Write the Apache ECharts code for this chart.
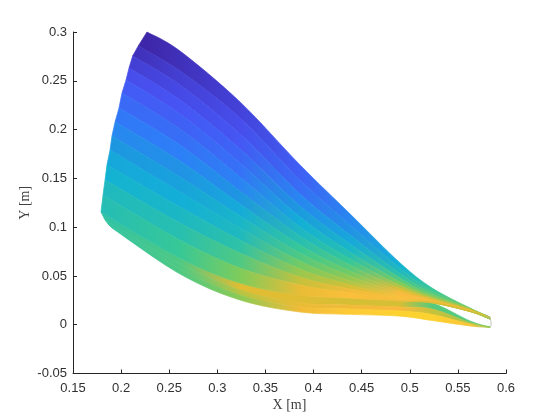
<!DOCTYPE html>
<html>
<head>
<meta charset="utf-8">
<style>html,body{margin:0;padding:0;background:#fff}#c{width:560px;height:420px}</style>
<script src="https://cdn.jsdelivr.net/npm/echarts@6/dist/echarts.min.js"></script>
</head>
<body>
<div id="c"></div>
<script>
// X stations shared by all rows (after each row's own left-edge point)
const stationX = [0.2612, 0.3236, 0.386, 0.438, 0.49, 0.5232, 0.5627, 0.5835];

// Left-edge X of each row, upper sheet then lower sheet
const upperLeftX = [0.2269, 0.2178, 0.2120, 0.2082, 0.2051, 0.2009, 0.1978, 0.1937, 0.1905, 0.1885, 0.1853, 0.1833, 0.1812, 0.1791];
const lowerLeftX = [0.1791, 0.1833, 0.1864, 0.1905];

// Y of each row of the upper sheet: left edge, then stations
const uY0  = [0.300, 0.2805, 0.2283, 0.1637, 0.1135, 0.0632, 0.0376, 0.0171, 0.0079];
const uY1  = [0.2857, 0.2600, 0.2119, 0.1483, 0.1022, 0.0576, 0.0345, 0.0166, 0.0076];
const uY2  = [0.2754, 0.2457, 0.1955, 0.1340, 0.0919, 0.0525, 0.0320, 0.0161, 0.0073];
const uY3  = [0.2631, 0.2303, 0.1801, 0.1217, 0.0827, 0.0478, 0.0299, 0.0158, 0.007];
const uY4  = [0.2508, 0.2159, 0.1657, 0.1104, 0.0745, 0.0437, 0.0284, 0.0155, 0.0069];
const uY5  = [0.2375, 0.2006, 0.1514, 0.1001, 0.0673, 0.0402, 0.0268, 0.0151, 0.0069];
const uY6  = [0.2221, 0.1842, 0.1370, 0.0909, 0.0612, 0.0371, 0.0258, 0.0147, 0.0065];
const uY7  = [0.2078, 0.1678, 0.1237, 0.0817, 0.0550, 0.0345, 0.0248, 0.0144, 0.0063];
const uY8  = [0.1934, 0.1514, 0.1114, 0.0735, 0.0499, 0.0325, 0.0243, 0.0141, 0.0061];
const uY9  = [0.179, 0.1360, 0.0991, 0.0653, 0.0448, 0.0304, 0.0238, 0.0138, 0.006];
const uY10 = [0.1637, 0.1206, 0.0868, 0.0571, 0.0407, 0.0284, 0.0233, 0.0137, 0.0059];
const uY11 = [0.1483, 0.1042, 0.0735, 0.0489, 0.0366, 0.0268, 0.0229, 0.0136, 0.0058];
const uY12 = [0.1329, 0.0868, 0.0581, 0.0407, 0.0325, 0.0253, 0.0226, 0.0135, 0.0058];
const uY13 = [0.1155, 0.0684, 0.0427, 0.0304, 0.0273, 0.0243, 0.0222, 0.0135, 0.0058];

// Y of each row of the lower sheet
const lY0 = [0.1155, 0.0684, 0.0427, 0.0304, 0.0273, 0.0243, 0.0222, 0.0038, -0.0024];
const lY1 = [0.1073, 0.0622, 0.0356, 0.0222, 0.0202, 0.0181, 0.0161, 0.0022, -0.0024];
const lY2 = [0.1032, 0.0571, 0.0304, 0.0181, 0.0161, 0.0140, 0.0105, 0.0007, -0.0026];
const lY3 = [0.0991, 0.052, 0.0253, 0.013, 0.0106, 0.0088, 0.0043, -0.0013, -0.0029];

// Colour value (0..1 on the colormap) of each band
const uC0  = [0, .03, .08, .16, .27, .38, .5, .6, .65];
const uC1  = [.03, .07, .11, .2, .3, .42, .53, .62, .66];
const uC2  = [.07, .1, .14, .27, .35, .47, .58, .66, .68];
const uC3  = [.11, .13, .18, .32, .4, .55, .62, .7, .7];
const uC4  = [.15, .16, .21, .37, .45, .62, .68, .74, .72];
const uC5  = [.19, .2, .26, .41, .5, .7, .74, .78, .74];
const uC6  = [.23, .25, .31, .45, .55, .76, .78, .8, .74];
const uC7  = [.27, .3, .36, .5, .6, .8, .8, .8, .74];
const uC8  = [.31, .34, .4, .54, .65, .82, .82, .8, .74];
const uC9  = [.35, .37, .42, .6, .69, .83, .8, .78, .72];
const uC10 = [.38, .41, .47, .66, .74, .84, .78, .76, .7];
const uC11 = [.42, .45, .54, .72, .8, .84, .76, .74, .68];
const uC12 = [.44, .5, .62, .78, .84, .8, .74, .72, .66];
const uC13 = [.47, .54, .76, .8, .78, .74, .72, .7, .6];

const lC0 = [.47, .54, .76, .76, .74, .74, .55, .55, .6];
const lC1 = [.48, .54, .7, .78, .8, .82, .72, .68, .62];
const lC2 = [.48, .54, .64, .8, .88, .9, .9, .86, .65];

// Thin outline closing the tip
const tipX = [0.5785, 0.5835, 0.5845, 0.5835];
const tipY = [0.0105, 0.0058, 0.0005, -0.0026];

const upperRows = [uY0,uY1,uY2,uY3,uY4,uY5,uY6,uY7,uY8,uY9,uY10,uY11,uY12,uY13];
const upperVals = [uC0,uC1,uC2,uC3,uC4,uC5,uC6,uC7,uC8,uC9,uC10,uC11,uC12,uC13];
const lowerRows = [lY0,lY1,lY2,lY3];
const lowerVals = [lC0,lC1,lC2];

const cmap = [[0,[62,38,168]],[.125,[72,82,244]],[.25,[45,127,248]],[.31,[30,150,225]],[.375,[18,177,214]],[.5,[55,200,151]],[.625,[129,204,89]],[.75,[220,190,50]],[.82,[250,186,60]],[.875,[253,200,55]],[1,[249,251,21]]];
function col(v){
  for(let i=1;i<cmap.length;i++){
    if(v<=cmap[i][0]){
      const a=cmap[i-1],b=cmap[i],t=(v-a[0])/(b[0]-a[0]);
      return 'rgb('+a[1].map((c,k)=>Math.round(c+(b[1][k]-c)*t)).join(',')+')';
    }
  }
  return 'rgb(249,251,21)';
}

// Smooth edge through a row of pixels, drawn as bezier segments
function smoothTo(ctx,P){
  for(let i=0;i<P.length-1;i++){
    const p0=P[Math.max(i-1,0)],p1=P[i],p2=P[i+1],p3=P[Math.min(i+2,P.length-1)];
    ctx.bezierCurveTo(p1[0]+(p2[0]-p0[0])/6,p1[1]+(p2[1]-p0[1])/6,p2[0]-(p3[0]-p1[0])/6,p2[1]-(p3[1]-p1[1])/6,p2[0],p2[1]);
  }
}
echarts.graphic.registerShape('band',echarts.graphic.extendShape({
  shape:{top:[],bottom:[]},
  buildPath(ctx,s){
    ctx.moveTo(s.top[0][0],s.top[0][1]);
    smoothTo(ctx,s.top);
    const r=s.bottom.slice().reverse();
    ctx.lineTo(r[0][0],r[0][1]);
    smoothTo(ctx,r);
    ctx.closePath();
  }
}));

// Lower sheet is drawn first, so the upper sheet covers the crease
const sheets=[
  {left:lowerLeftX,rows:lowerRows,vals:lowerVals},
  {left:upperLeftX,rows:upperRows,vals:upperVals}
];
const bandData=[];
sheets.forEach((s,k)=>s.vals.forEach((v,j)=>{ if(j<s.rows.length-1) bandData.push([s.left[j],s.rows[j][0],k,j]); }));

const textCol='#303030';
const axisBase=(labelMargin)=>({
  nameLocation:'middle',
  nameMoveOverlap:false,
  nameTextStyle:{fontFamily:'Liberation Serif',fontSize:14,color:'#404040'},
  axisLine:{onZero:false,lineStyle:{color:'#262626',width:1}},
  axisTick:{inside:true,length:4,lineStyle:{color:'#262626'}},
  axisLabel:{margin:labelMargin,fontFamily:'Liberation Sans',fontSize:13,color:textCol,formatter:v=>String(parseFloat(v.toFixed(2))),hideOverlap:false,showMinLabel:true,showMaxLabel:true},
  splitLine:{show:false}
});
const chart=echarts.init(document.getElementById('c'),null,{renderer:'canvas'});
chart.setOption({
  animation:false,
  backgroundColor:'#fff',
  grid:{left:73,right:54,top:32,bottom:46.5,containLabel:false},
  xAxis:Object.assign({type:'value',min:0.15,max:0.6,interval:0.05,name:'X [m]',nameGap:25},axisBase(8)),
  yAxis:Object.assign({type:'value',min:-0.05,max:0.3,interval:0.05,name:'Y [m]',nameGap:41},axisBase(6)),
  series:[
    {type:'custom',coordinateSystem:'cartesian2d',silent:true,clip:false,data:bandData,
     encode:{x:0,y:1},
     renderItem:function(params,api){
       const s=sheets[api.value(2)],j=api.value(3);
       const xsA=[s.left[j]].concat(stationX),xsB=[s.left[j+1]].concat(stationX);
       const top=xsA.map((x,i)=>api.coord([x,s.rows[j][i]]));
       const bottom=xsB.map((x,i)=>api.coord([x,s.rows[j+1][i]]));
       const x0=Math.min(top[0][0],bottom[0][0]),x1=top[top.length-1][0];
       const stops=top.map((p,i)=>({offset:Math.max(0,(p[0]-x0)/(x1-x0)),color:col(s.vals[j][i])}));
       const g=new echarts.graphic.LinearGradient(x0,0,x1,0,stops,true);
       return {type:'band',shape:{top,bottom},style:{fill:g,stroke:g,lineWidth:0.7}};
     }},
    {type:'line',data:tipX.map((x,i)=>[x,tipY[i]]),showSymbol:false,smooth:true,silent:true,
     lineStyle:{color:'#a8b8a0',width:0.8}}
  ]
});
</script>
</body>
</html>
